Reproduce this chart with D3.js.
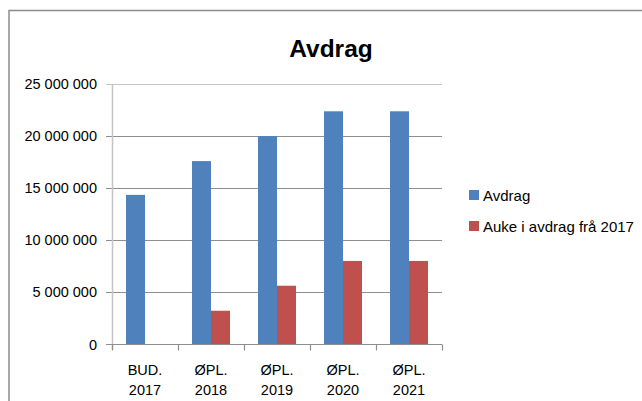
<!DOCTYPE html>
<html>
<head>
<meta charset="utf-8">
<script src="https://cdn.jsdelivr.net/npm/d3@7"></script>
<style>
  html, body { margin: 0; padding: 0; background: #fff; }
  svg { display: block; }
  text { font-family: "Liberation Sans", Arial, sans-serif; fill: #000; }
</style>
</head>
<body>
<svg id="chart" width="642" height="401"></svg>
<script>
const categories = [["BUD.", "2017"], ["ØPL.", "2018"], ["ØPL.", "2019"], ["ØPL.", "2020"], ["ØPL.", "2021"]];
const seriesNames = ["Avdrag", "Auke i avdrag frå 2017"];
const avdrag = [14360000, 17600000, 20000000, 22380000, 22380000];
const auke = [0, 3240000, 5640000, 8020000, 8020000];
const yTicks = [0, 5000000, 10000000, 15000000, 20000000, 25000000];
const colors = ["#4F81BD", "#C0504D"];
const title = "Avdrag";

const svg = d3.select("#chart");

// outer frame
svg.append("rect").attr("x", 9).attr("y", 10.5).attr("width", 640).attr("height", 400)
  .attr("fill", "none").attr("stroke", "#8c8c8c").attr("stroke-width", 1.5);

const plot = { left: 112, right: 442, top: 84, bottom: 344.5 };

const x0 = d3.scaleBand().domain(d3.range(categories.length)).range([plot.left, plot.right]).paddingInner(0).paddingOuter(0);
const x1 = d3.scaleBand().domain([0, 1]).range([0, x0.bandwidth()]).paddingInner(0).paddingOuter(0.737);
const y = d3.scaleLinear().domain([0, 25000000]).range([plot.bottom, plot.top]);

const fmt = v => d3.format(",")(v).replace(/,/g, " ");

// gridlines
svg.append("g").selectAll("line").data(yTicks.filter(t => t > 0)).join("line")
  .attr("x1", plot.left - 6).attr("x2", plot.right)
  .attr("y1", d => Math.round(y(d)) + 0.5).attr("y2", d => Math.round(y(d)) + 0.5)
  .attr("stroke", d => d === 25000000 ? "#c4c4c4" : "#8e8e8e").attr("stroke-width", 1);

// y axis line
svg.append("line").attr("x1", plot.left + 0.5).attr("x2", plot.left + 0.5)
  .attr("y1", plot.top).attr("y2", plot.bottom + 5)
  .attr("stroke", "#c4c4c4").attr("stroke-width", 1.5);

// y labels
svg.append("g").selectAll("text").data(yTicks).join("text")
  .attr("x", 97).attr("y", d => y(d) + 5)
  .attr("text-anchor", "end").attr("font-size", 14.5)
  .text(fmt);

// bars
const groups = svg.append("g").selectAll("g").data(categories).join("g")
  .attr("transform", (d, i) => `translate(${x0(i)},0)`);
groups.selectAll("rect").data((d, i) => [avdrag[i], auke[i]]).join("rect")
  .attr("x", (d, j) => x1(j)).attr("width", x1.bandwidth())
  .attr("y", d => y(d)).attr("height", d => plot.bottom - y(d))
  .attr("fill", (d, j) => colors[j]);

// x axis line
svg.append("line").attr("x1", plot.left - 6).attr("x2", plot.right)
  .attr("y1", plot.bottom).attr("y2", plot.bottom)
  .attr("stroke", "#8e8e8e").attr("stroke-width", 1.2);
// x ticks at boundaries
svg.append("g").selectAll("line").data(d3.range(categories.length + 1)).join("line")
  .attr("x1", i => Math.round(plot.left + i * x0.bandwidth()) + 0.5)
  .attr("x2", i => Math.round(plot.left + i * x0.bandwidth()) + 0.5)
  .attr("y1", plot.bottom).attr("y2", plot.bottom + 6)
  .attr("stroke", "#8e8e8e").attr("stroke-width", 1.2);

// x labels
const xl = svg.append("g").selectAll("text").data(categories).join("text")
  .attr("text-anchor", "middle").attr("font-size", 14.5)
  .attr("x", (d, i) => x0(i) + x0.bandwidth() / 2);
xl.append("tspan").attr("x", (d, i) => x0(i) + x0.bandwidth() / 2).attr("y", 375).text(d => d[0]);
xl.append("tspan").attr("x", (d, i) => x0(i) + x0.bandwidth() / 2).attr("y", 395).text(d => d[1]);

// title
svg.append("text").attr("x", 331).attr("y", 57).attr("text-anchor", "middle")
  .attr("font-size", 24.5).attr("font-weight", "bold").text(title);

// legend
const lg = svg.append("g").selectAll("g").data(seriesNames).join("g")
  .attr("transform", (d, i) => `translate(469,${190 + i * 31})`);
lg.append("rect").attr("width", 10).attr("height", 10).attr("fill", (d, i) => colors[i]);
lg.append("text").attr("x", 14).attr("y", 11).attr("font-size", 15).text(d => d);
</script>
</body>
</html>
